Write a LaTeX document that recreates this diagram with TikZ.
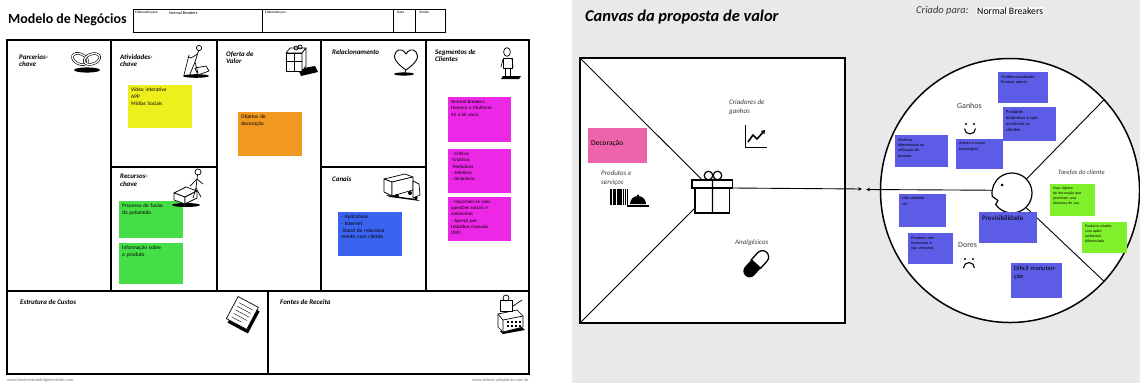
\documentclass[tikz,border=0pt]{standalone}
\usepackage{fontspec}
\setmainfont{Carlito}
\usetikzlibrary{shapes.geometric,arrows.meta,calc}

\definecolor{panelgray}{RGB}{233,233,233}
\definecolor{noteyellow}{RGB}{238,240,30}
\definecolor{notegreen}{RGB}{70,222,70}
\definecolor{noteorange}{RGB}{240,152,34}
\definecolor{noteblue}{RGB}{58,100,240}
\definecolor{notemagenta}{RGB}{236,40,230}
\definecolor{notepink}{RGB}{238,100,170}
\definecolor{noteviolet}{RGB}{92,92,230}
\definecolor{notelime}{RGB}{128,240,44}
\definecolor{labelgray}{RGB}{60,60,60}
\definecolor{footgray}{RGB}{120,120,120}

% sticky note: name, x, y, width, height, colour, text style, text
\newcommand{\stickynote}[8]{%
  \node[notebox, fill=#6, minimum width=#4, minimum height=#5] (#1) at (#2,#3) {};
  \pgfmathsetmacro{\notetw}{#4-6}
  \node[notetext, #7, text width=\notetw] (#1-text) at ([shift={(3bp,-3bp)}]#1.north west) {#8};
}

\begin{document}
\begin{tikzpicture}[x=1bp,y=-1bp,
  frame/.style={draw=black, line width=1.4},
  cellline/.style={draw=black, line width=1.1},
  celllabel/.style={anchor=north west, inner sep=0, align=left,
    font=\fontsize{7}{7.5}\selectfont\bfseries\itshape},
  notebox/.style={anchor=north west, inner sep=0, outer sep=0, draw=none},
  notetext/.style={anchor=north west, inner sep=0, align=left},
  leftnote/.style={font=\fontsize{5.4}{6.6}\selectfont},
  pinknote/.style={font=\fontsize{4.9}{6.3}\selectfont},
  smallnote/.style={font=\fontsize{4.6}{6.2}\selectfont},
  tinynote/.style={font=\fontsize{4.1}{5.4}\selectfont},
  icon/.style={draw=black, line width=0.7, line cap=round, line join=round},
  vplabel/.style={inner sep=0, text=labelgray, align=left},
  tiny/.style={inner sep=0, anchor=north west, font=\fontsize{3.6}{4}\selectfont}
]
\useasboundingbox (0,0) rectangle (1140,383);
\fill[white] (0,0) rectangle (1140,383);
\fill[panelgray] (572,0) rectangle (1140,383);

%% ================= Business model canvas =================
\node[anchor=west, inner sep=0, font=\fontsize{14}{14}\selectfont\bfseries] (bmctitle) at (8,20) {Modelo de Negócios};

% header form
\draw[line width=0.8] (133,9) rectangle (445,32);
\draw[line width=0.8] (262,9) -- (262,32) (393,9) -- (393,32) (415,9) -- (415,32);
\node[tiny] (forfield) at (135,11) {Elaborado para:};
\node[tiny, font=\fontsize{4.2}{4.5}\selectfont] (forname) at (169,11) {Normal Breakers};
\node[tiny] (byfield) at (265,11) {Elaborado por:};
\node[tiny] (datefield) at (397,11) {Data};
\node[tiny] (versionfield) at (419,11) {Versão};

% grid
\draw[frame] (7,40) rectangle (529,374);
\draw[line width=2] (7,40) -- (529,40);
\draw[cellline] (111,40) -- (111,291) (217,40) -- (217,291) (321,40) -- (321,291) (426,40) -- (426,291);
\draw[cellline] (111,167) -- (217,167) (321,167) -- (426,167);
\draw[cellline] (7,291) -- (529,291) (268,291) -- (268,374);

% cell titles
\node[celllabel] (partners) at (19,54) {Parcerias-\\chave};
\node[celllabel] (activities) at (120,54) {Atividades-\\chave};
\node[celllabel] (resources) at (120,174) {Recursos-\\chave};
\node[celllabel] (offer) at (226,51) {Oferta de\\Valor};
\node[celllabel] (relation) at (332,49) {Relacionamento};
\node[celllabel] (channels) at (332,176) {Canais};
\node[celllabel] (segments) at (435,49) {Segmentos de\\Clientes};
\node[celllabel] (costs) at (20,299) {Estrutura de Custos};
\node[celllabel] (revenue) at (280,299) {Fontes de Receita};

% notes
\stickynote{act1}{128}{85}{64}{43}{noteyellow}{leftnote}{Vídeo interativo\\APP\\Mídias Sociais}
\stickynote{res1}{119}{201}{64}{37}{notegreen}{leftnote}{Processo de fusão\\da poliamida}
\stickynote{res2}{119}{243}{64}{41}{notegreen}{leftnote}{Informação sobre\\o produto}
\stickynote{off1}{238}{112}{64}{44}{noteorange}{leftnote}{Objetos de\\decoração}
\stickynote{chn1}{338}{212}{64}{44}{noteblue}{leftnote}{- Aplicativos\\- Internet\\\hspace*{1.5pt}Stand de relaciona\\mento com cliente}
\stickynote{seg1}{448}{97}{63}{45}{notemagenta}{pinknote}{Normal Breakers\\Homens e Mulheres\\45 à 60 anos;}
\stickynote{seg2}{448}{149}{63}{44}{notemagenta}{pinknote}{- Críticos\\-Criativos\\\hspace*{1.5pt}Metódicos\\- Seletivos\\- Dinâmicos}
\stickynote{seg3}{448}{197}{63}{44}{notemagenta}{pinknote}{- Importam-se com\\questões sociais e\\ambientais\\- Apreço por\\trabalhos manuais\\(DIY)}

% --- icons ---
% chain links
\fill (87,70) ellipse [x radius=13, y radius=2.6];
\draw[icon, double=white, double distance=1.3, line width=0.6, rotate around={-25:(80,59)}] (80,59) ellipse [x radius=8, y radius=5];
\draw[icon, double=white, double distance=1.3, line width=0.6, rotate around={20:(92,59)}] (92,59) ellipse [x radius=8, y radius=5];
% person with floor machine
\fill (196,76) ellipse [x radius=13, y radius=1.8];
\draw[icon, fill=white] (195,68) -- (206,66) -- (209,71) -- (198,75) -- cycle;
\draw[icon] (199,48) circle (2.6);
\draw[icon] (198.5,50.8) -- (195,62);
\draw[icon] (197.5,54) -- (191,58) -- (188,57);
\draw[icon] (195,62) -- (190,74) (195,62) -- (198,73);
\draw[icon] (189,55) -- (184,75);
% value offer parcel
\fill (298,69) -- (315,66) -- (318,72) -- (301,76) -- cycle;
\draw[icon, fill=white] (286,53) -- (290,48) -- (306,48) -- (302,53) -- cycle;
\draw[icon, fill=white] (286,53) rectangle (302,71);
\draw[icon, fill=white] (302,53) -- (306,48) -- (306,66) -- (302,71) -- cycle;
\draw[icon] (294,53) -- (294,71) (286,61) -- (302,61);
\draw[icon] (296,48) circle (2) (300,47) circle (2);
% heart
\fill (404,74) ellipse [x radius=10, y radius=1.6];
\draw[icon, line width=0.9] (406,70) .. controls (396,63) and (392,57) .. (396,52)
  .. controls (399,48) and (404,50) .. (406,54)
  .. controls (408,50) and (413,48) .. (416,52)
  .. controls (420,57) and (416,63) .. (406,70);
\draw[icon] (406,70) -- (404,74);
% truck
\fill (386,195) -- (416,199) -- (420,201) -- (390,197) -- cycle;
\draw[icon, fill=white] (384,179) -- (405,174) -- (413,177) -- (392,182) -- cycle;
\draw[icon, fill=white] (384,179) -- (392,182) -- (392,196) -- (384,192) -- cycle;
\draw[icon, fill=white] (392,182) -- (413,177) -- (413,190) -- (392,196) -- cycle;
\draw[icon, fill=white] (413,181) -- (419,184) -- (420,195) -- (413,198) -- cycle;
\fill (397,196) circle (2) (410,193) circle (2) (416,198) circle (1.8);
% standing customer
\fill (503,76) -- (521,76) -- (519,79) -- (501,79) -- cycle;
\draw[icon] (507,52) ellipse [x radius=3.4, y radius=4.4];
\draw[icon, fill=white] (503,58) rectangle (512,68);
\draw[icon] (505,68) -- (505,76) (510,68) -- (510,76) (503,76) -- (506,76) (509,76) -- (513,76);
\draw[icon] (503,59) -- (501,67) (512,59) -- (513,67);
% person with machine
\fill (186,205) ellipse [x radius=14, y radius=2];
\draw[icon, fill=white] (174,193) -- (186,187) -- (197,191) -- (185,197) -- cycle;
\draw[icon, fill=white] (174,193) -- (185,197) -- (185,204) -- (174,200) -- cycle;
\draw[icon, fill=white] (185,197) -- (197,191) -- (197,198) -- (185,204) -- cycle;
\draw[icon] (198,172) circle (3);
\draw[icon] (197.5,175) -- (196,188);
\draw[icon] (197,179) -- (190,186) (197,179) -- (203,184);
\draw[icon] (196,188) -- (193,198) (196,188) -- (201,197);
% paper stack
\fill[rotate around={-28:(243,315)}] (233,304) rectangle (256,329);
\draw[icon, fill=white, rotate around={-28:(243,315)}] (230,301) rectangle (253,326);
\draw[icon, line width=0.4, rotate around={-28:(243,315)}] (234,306) -- (249,306) (234,310) -- (249,310) (234,314) -- (249,314) (234,318) -- (249,318) (234,322) -- (245,322);
% cash register
\fill (500,331) -- (522,327) -- (525,330) -- (503,334) -- cycle;
\draw[icon, fill=white] (498,314) -- (517,310) -- (523,316) -- (523,327) -- (503,332) -- (498,327) -- cycle;
\draw[icon] (498,314) -- (503,320) -- (523,316) (503,320) -- (503,332);
\draw[icon, fill=white] (500,300) rectangle (512,311);
\draw[icon] (506,298) circle (3);
\draw[icon] (513,306) -- (522,300);
\foreach \kx in {507,511,515,519}{\fill (\kx,321) rectangle ++(2,2); \fill (\kx,325) rectangle ++(2,2);}

% footer
\node[anchor=west, inner sep=0, text=footgray, font=\fontsize{4.5}{5}\selectfont] (footl) at (7,380) {www.businessmodelgeneration.com};
\node[anchor=east, inner sep=0, text=footgray, font=\fontsize{4.5}{5}\selectfont] (footr) at (529,380) {www.sebrae.adaptacao.com.br};

%% ================= Value proposition canvas =================
\node[anchor=west, inner sep=0, font=\fontsize{16.5}{16.5}\selectfont\bfseries\itshape] (vptitle) at (585,17) {Canvas da proposta de valor};
\node[anchor=west, inner sep=0, text=labelgray, font=\fontsize{10.5}{11}\selectfont\itshape] (createdfor) at (916,11) {Criado para:};
\node[anchor=west, inner sep=1, fill=white!70!panelgray, font=\fontsize{9.8}{10}\selectfont] (createdname) at (976,11) {Normal Breakers};

% value map square
\node[draw, fill=white, line width=1.5, minimum size=266, inner sep=0, outer sep=0, anchor=north west] (vpsquare) at (580,58) {};

% gift
\node[draw, line width=1.2, fill=white, minimum width=35, minimum height=25, inner sep=0, outer sep=0, anchor=north west] (giftbox) at (695,188) {};
\node[draw, line width=1.2, fill=white, minimum width=41, minimum height=8, inner sep=0, outer sep=0, anchor=south west] (giftlid) at (692,188) {};
\draw[line width=1.2] (giftlid.north) -- (giftbox.south);
\draw[line width=1.2] (708.5,175.5) circle (4.3) (717.5,175.5) circle (4.3);
\draw[line width=0.9] (vpsquare.north west) -- ($(giftlid.north west)!0.25!(giftlid.north east)$);
\draw[line width=0.9] (vpsquare.south west) -- ($(giftbox.north west)!0.8!(giftbox.south west)$);

\node[vplabel, anchor=north west, font=\fontsize{7}{9}\selectfont\itshape] (gaincreators) at (729,99) {Criadores de\\ganhos};
\node[vplabel, anchor=north west, font=\fontsize{7}{9}\selectfont\itshape] (products) at (601,170) {Produtos e\\serviços};
\node[vplabel, anchor=north west, font=\fontsize{7}{9}\selectfont\itshape] (painrelievers) at (735,239) {Analgésicos};

\stickynote{deco}{588}{128}{59}{35}{notepink}{yshift=-9bp, font=\fontsize{7.5}{9}\selectfont}{Decoração}

% growth chart
\draw[line width=1] (745,125) -- (745,147) -- (767,147);
\draw[line width=1.6, line join=round, -{Triangle[length=3.5bp,width=4.5bp]}] (748,142) -- (753,135) -- (757,139) -- (765,130);
% barcode and service bell
\foreach \bx/\bw in {610/1.6,612.6/0.8,614.2/1.6,616.8/0.8,618.4/1.2,620.4/1.6,623/0.8,624.6/1.6,627.2/0.8}{\fill (\bx,189) rectangle ++(\bw,16);}
\fill (630,204) arc[start angle=180, end angle=360, radius=8] -- cycle;
\fill (627,204.5) rectangle (649,207);
\fill (638,195.5) circle (1.2);
% capsule
\begin{scope}[shift={(756,264)}, rotate=48]
  \fill (0,-6.3) -- (-9.5,-6.3) arc[start angle=270, end angle=90, radius=6.3] -- (0,6.3) -- cycle;
  \draw[line width=1.3, fill=white] (0,-6.3) -- (9.5,-6.3) arc[start angle=-90, end angle=90, radius=6.3] -- (0,6.3) -- cycle;
\end{scope}

%% customer profile
\node[ellipse, draw, fill=white, line width=1.5, minimum width=260, minimum height=265, inner sep=0] (customer) at (1010,190.5) {};
\node[circle, minimum size=40, inner sep=0, outer sep=0] (face) at (1012,193) {};
\draw[line width=1.2, line join=round] (face.center) ++(145:20) arc[start angle=145, end angle=-190, radius=20] -- (998,200.5) -- cycle;
\fill (1002,185) circle (1.5);
\draw[line width=0.9] (face.44) -- (customer.44);
\draw[line width=0.9] (face.-46) -- (customer.-44);

% link between the two canvases
\coordinate (meetL) at (862,189);
\coordinate (meetR) at (866,189.5);
\draw[line width=0.9, -{Stealth[length=4bp,width=3.5bp]}] (giftlid.south east) -- (meetL);
\draw[line width=0.9, -{Stealth[length=4bp,width=3.5bp]}] (face.172) -- (meetR);

\node[vplabel, anchor=north west, font=\fontsize{8}{9}\selectfont] (gains) at (957,103) {Ganhos};
\node[vplabel, anchor=north west, font=\fontsize{8}{9}\selectfont] (pains) at (958,242) {Dores};
\node[vplabel, anchor=north west, font=\fontsize{6.6}{8}\selectfont\itshape] (jobs) at (1058,170) {Tarefas do cliente};

% smiling and frowning faces
\fill (966,124) circle (1.1) (974,124) circle (1.1);
\draw[line width=1.1] (964.5,128.5) arc[start angle=180, end angle=0, radius=5.5];
\fill (965,259) circle (1.1) (973,259) circle (1.1);
\draw[line width=1.1] (963.5,268) arc[start angle=180, end angle=360, radius=5.5];

\stickynote{gain1}{998}{72}{50}{31}{noteviolet}{tinynote}{Multifuncionalidade\\Produto aberto}
\stickynote{gain2}{1003}{107}{53}{34}{noteviolet}{smallnote}{Produtos\\dinâmicos e que\\envolvam os\\clientes}
\stickynote{gain3}{956}{139}{47}{30}{noteviolet}{tinynote}{Acesso a novas\\tecnologias}
\stickynote{gain4}{895}{135}{53}{32}{noteviolet}{tinynote}{Vivência\\diferenciada na\\utilização do\\produto}
\stickynote{pain1}{899}{194}{47}{33}{noteviolet}{tinynote}{Não sustentá\\vel}
\stickynote{pain2}{908}{233}{45}{31}{noteviolet}{tinynote}{Produtos não\\funcionais e\\não versáteis}
\stickynote{pain3}{979}{212}{58}{31}{noteviolet}{font=\fontsize{7}{8}\selectfont}{Previsibilidade}
\stickynote{pain4}{1011}{263}{51}{35}{noteviolet}{font=\fontsize{6.4}{8}\selectfont}{Difícil manuten-\\ção}
\stickynote{job1}{1050}{184}{45}{32}{notelime}{font=\fontsize{3.8}{5}\selectfont}{Usar objetos\\de decoração que\\permitam uma\\dinâmica de uso}
\stickynote{job2}{1082}{222}{45}{31}{notelime}{font=\fontsize{3.8}{5}\selectfont}{Produtos criados\\com apelo\\ambiental\\diferenciado}
\end{tikzpicture}
\end{document}
